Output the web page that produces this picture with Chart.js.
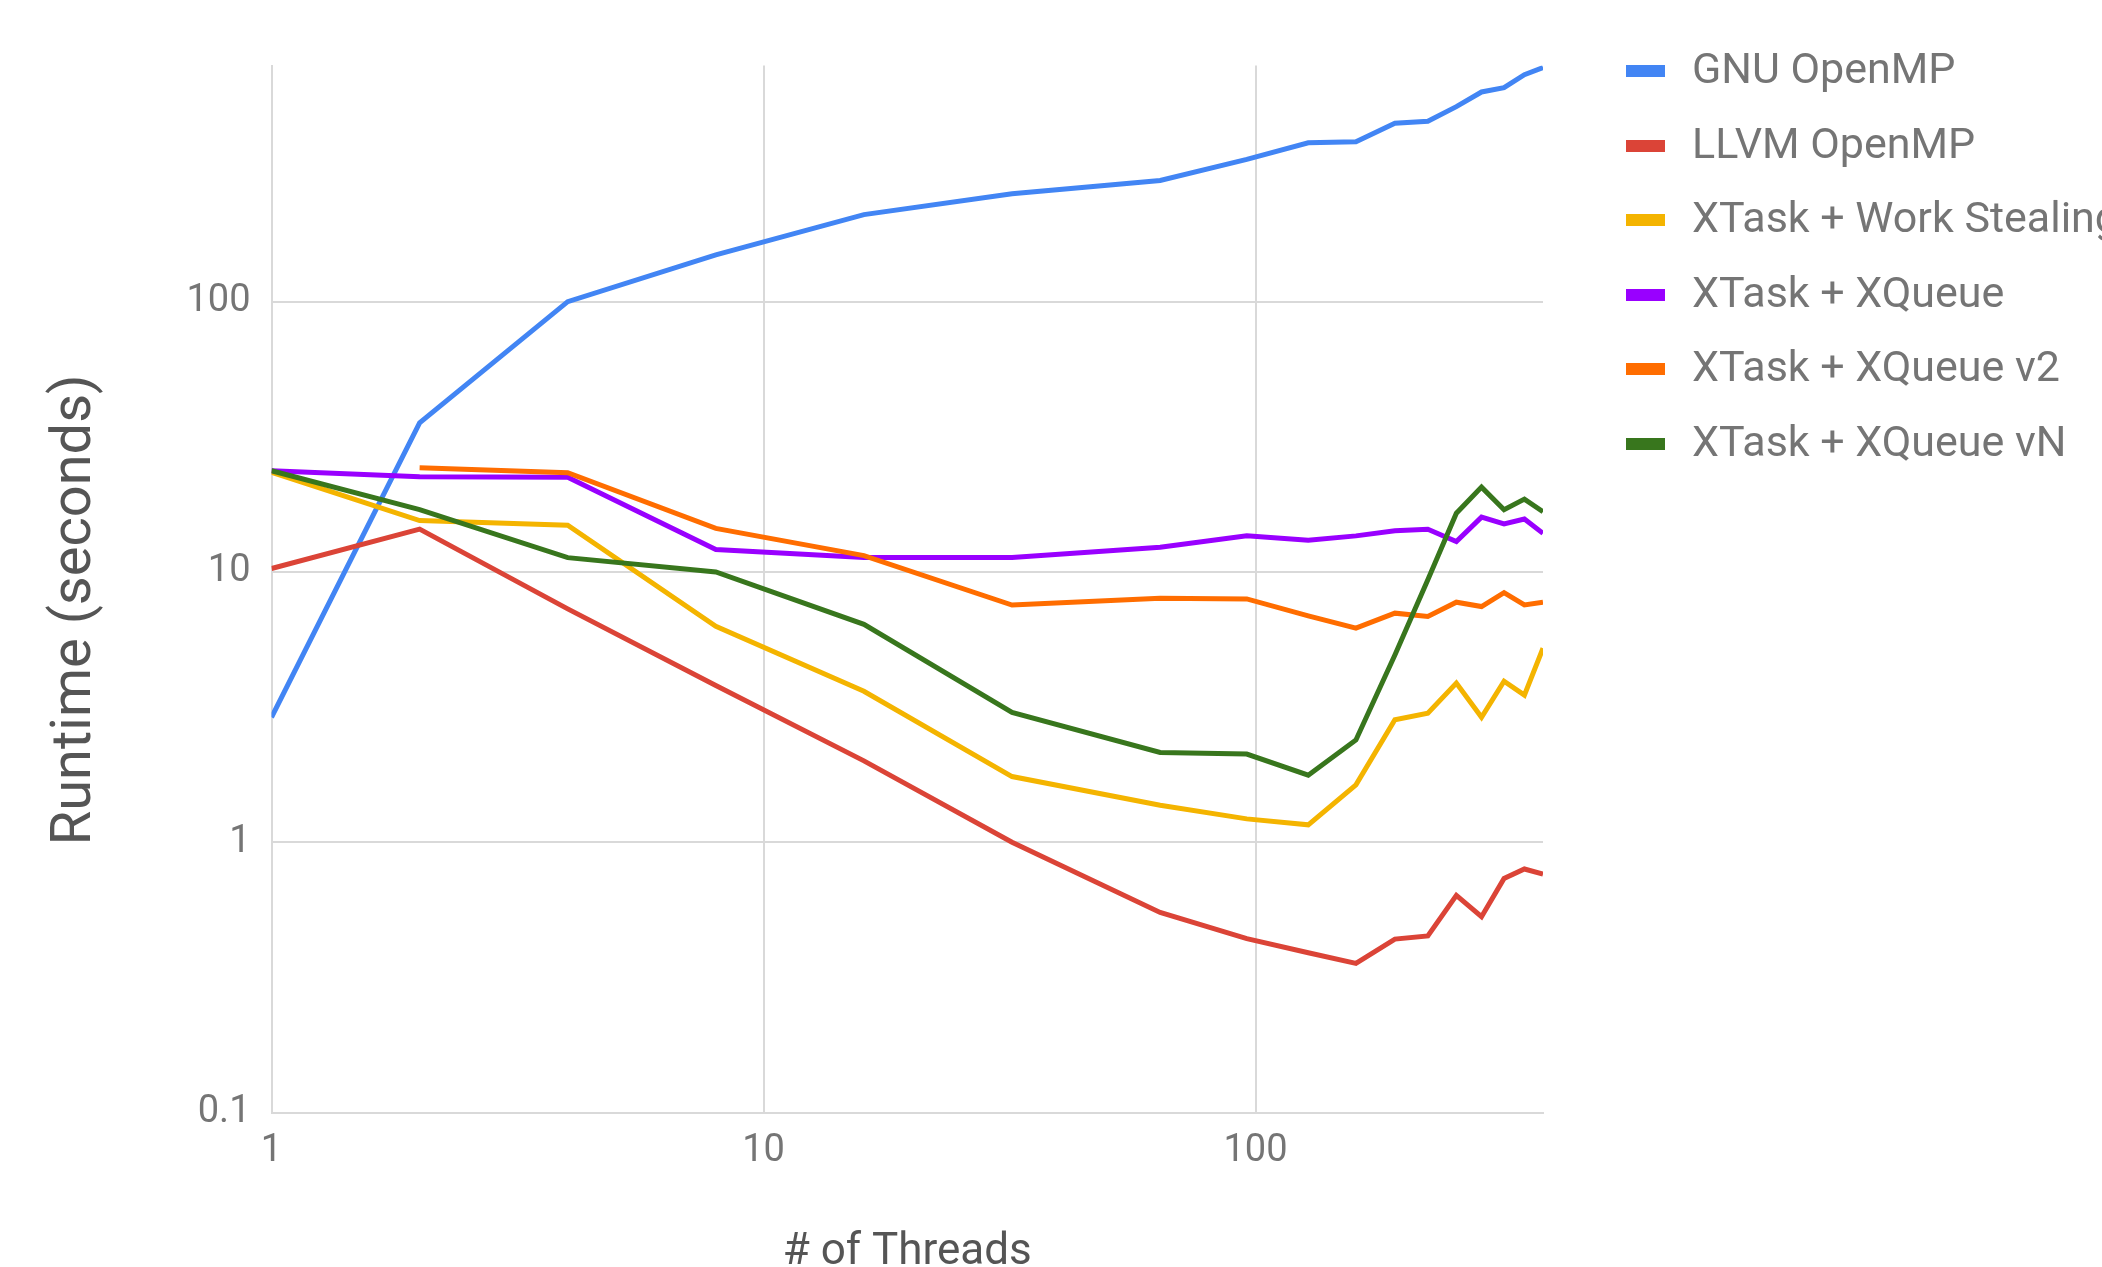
<!DOCTYPE html>
<html>
<head>
<meta charset="utf-8">
<title>Runtime vs threads</title>
<script src="https://cdn.jsdelivr.net/npm/chart.js@4.4.1/dist/chart.umd.min.js"></script>
<style>
  html, body { margin: 0; padding: 0; background: #fff; overflow: hidden; }
  #wrap { position: relative; width: 2102px; height: 1267px; }
  #legend { position: absolute; left: 0; top: 0; width: 2102px; height: 500px; pointer-events: none; }
  .item { position: absolute; left: 1626px; height: 40px; white-space: nowrap;
          font: 43px Roboto, sans-serif; line-height: 40px; color: #757575; }
  .item i { position: absolute; left: 0; top: 17px; width: 39px; height: 12px; }
  .item span { position: absolute; left: 66px; top: 0; }
</style>
</head>
<body>
<div id="wrap">
  <canvas id="chart"></canvas>
  <div id="legend"></div>
</div>
<script>
// thread counts (x axis, log scale)
const threads = [1, 2, 4, 8, 16, 32, 64, 96, 128, 160, 192, 224, 256, 288, 320, 352, 384]

const seriesNames = [
  'GNU OpenMP',
  'LLVM OpenMP',
  'XTask + Work Stealing',
  'XTask + XQueue',
  'XTask + XQueue v2',
  'XTask + XQueue vN'
]
const seriesColors = ['#4285f4', '#db4437', '#f4b400', '#9900ff', '#ff6d00', '#38761d']

// runtime in seconds
const gnuOpenmp  = [2.9, 35.6, 100, 149, 210, 251, 281, 336, 387, 391, 457, 465, 527, 597, 619, 692, 735]
const llvmOpenmp = [10.3, 14.4, 7.3, 3.8, 2.0, 1.0, 0.55, 0.44, 0.39, 0.356, 0.438, 0.45, 0.636, 0.53, 0.734, 0.796, 0.762]
const workSteal  = [23.4, 15.5, 14.9, 6.3, 3.62, 1.75, 1.37, 1.22, 1.16, 1.63, 2.84, 3.0, 3.88, 2.9, 3.94, 3.5, 5.22]
const xqueue     = [23.7, 22.5, 22.4, 12.1, 11.3, 11.3, 12.35, 13.6, 13.1, 13.6, 14.2, 14.4, 12.96, 15.95, 15.07, 15.7, 13.9]
const xqueueV2   = [null, 24.3, 23.3, 14.5, 11.5, 7.54, 8.0, 7.95, 6.88, 6.2, 7.04, 6.84, 7.73, 7.45, 8.39, 7.55, 7.73]
const xqueueVN   = [23.7, 17.0, 11.3, 10.0, 6.4, 3.02, 2.15, 2.12, 1.77, 2.39, 4.93, 9.35, 16.5, 20.6, 17.0, 18.6, 16.7]

const allSeries = [gnuOpenmp, llvmOpenmp, workSteal, xqueue, xqueueV2, xqueueVN]

const yTicks = [0.1, 1, 10, 100]
const xTicks = [1, 10, 100]

const datasets = allSeries.map((vals, i) => ({
  label: seriesNames[i],
  data: threads.map((t, j) => ({ x: t, y: vals[j] })),
  borderColor: seriesColors[i],
  backgroundColor: seriesColors[i],
  borderWidth: 5,
  pointRadius: 0,
  tension: 0,
  fill: false,
  order: allSeries.length - i // later series drawn on top
}))

const gridColor = '#d9d9d9'
const tickColor = '#757575'

new Chart(document.getElementById('chart'), {
  type: 'line',
  data: { datasets: datasets },
  options: {
    responsive: true,
    maintainAspectRatio: false,
    animation: false,
    devicePixelRatio: 1,
    layout: { padding: { left: 0, right: 559, top: 65.5, bottom: 0 } },
    plugins: { legend: { display: false }, tooltip: { enabled: false } },
    scales: {
      x: {
        type: 'logarithmic',
        min: 1,
        max: 384,
        afterBuildTicks: s => { s.ticks = xTicks.map(v => ({ value: v })) },
        afterFit: s => { s.height = 154.5 },
        ticks: {
          callback: v => String(v),
          color: tickColor,
          font: { family: 'Roboto', size: 38 },
          padding: 16,
          maxRotation: 0
        },
        grid: { color: gridColor, lineWidth: 2, drawTicks: false },
        border: { color: gridColor, width: 2 },
        title: {
          display: true,
          text: '# of Threads',
          color: '#555555',
          font: { family: 'Roboto', size: 44, lineHeight: 1.2 },
          padding: { top: 0, bottom: -12 }
        }
      },
      y: {
        type: 'logarithmic',
        min: 0.1,
        max: 748,
        afterBuildTicks: s => { s.ticks = yTicks.map(v => ({ value: v })) },
        afterFit: s => { s.width = 271.5 },
        ticks: {
          callback: v => String(v),
          color: tickColor,
          font: { family: 'Roboto', size: 38 },
          padding: 21
        },
        grid: { color: gridColor, lineWidth: 2, drawTicks: false },
        border: { color: gridColor, width: 2 },
        title: {
          display: true,
          // trailing spaces nudge the centred title a little lower, as in the original
          text: 'Runtime (seconds)   ',
          color: '#555555',
          font: { family: 'Roboto', size: 56, lineHeight: 1.2 },
          padding: { top: 42, bottom: 0 }
        }
      }
    }
  }
})

// legend on the right
const legend = document.getElementById('legend')
seriesNames.forEach((name, i) => {
  const row = document.createElement('div')
  row.className = 'item'
  row.style.top = (48 + i * 74.5) + 'px'
  row.innerHTML = '<i style="background:' + seriesColors[i] + '"></i><span>' + name + '</span>'
  legend.appendChild(row)
})
</script>
</body>
</html>
